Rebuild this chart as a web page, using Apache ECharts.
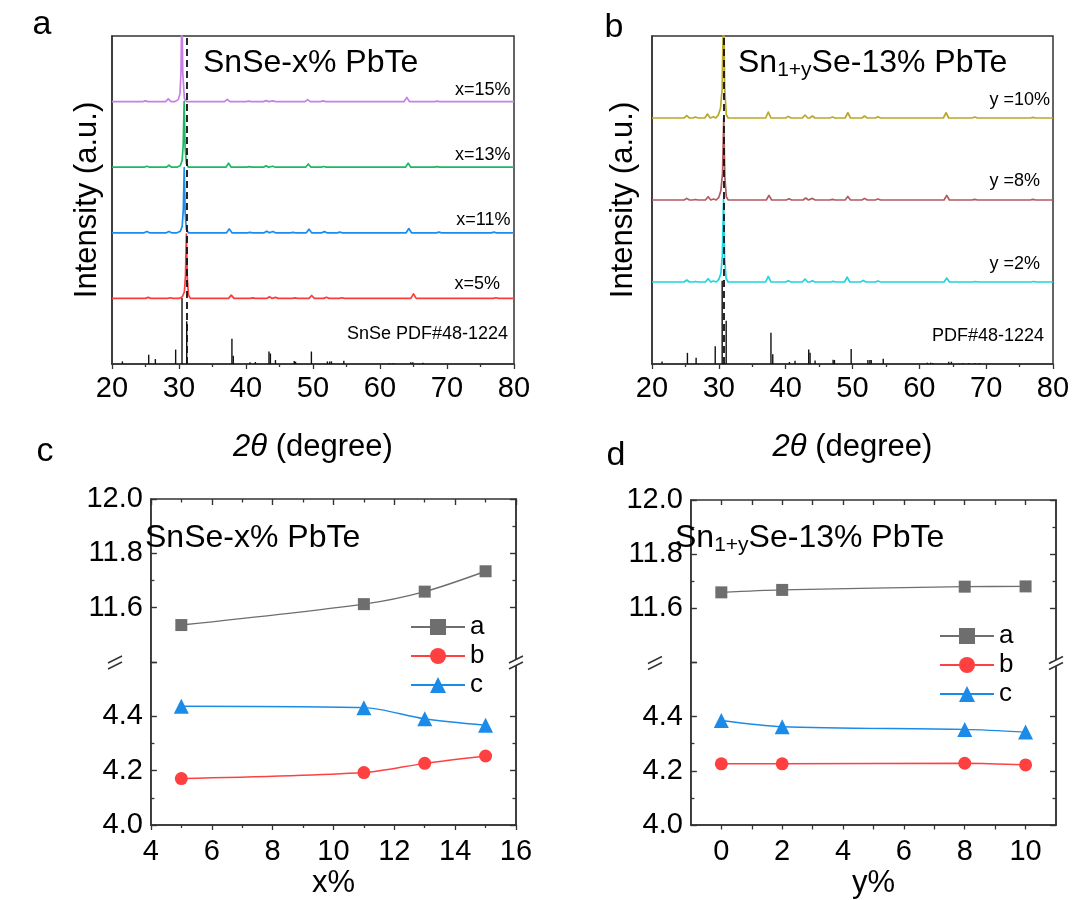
<!DOCTYPE html>
<html><head><meta charset="utf-8">
<script src="https://cdn.jsdelivr.net/npm/echarts@6/dist/echarts.min.js"></script>
<style>html,body{margin:0;padding:0;background:#fff}#main{width:1074px;height:900px}</style>
</head><body><div id="main"></div>
<script>
// ---------- Panel a : SnSe-x% PbTe XRD (2θ, intensity above each trace's baseline) ----------
const x5Main  = [[30.0,0],[30.5,0.5],[30.8,2.0],[30.97,7],[31.1,19.6],[31.24,6],[31.42,1],[31.7,0]];
const x5Peaks = [[25.4,0.3],[28.7,0.2],[37.8,1.0],[41.0,0.15],[43.5,0.5],[44.4,0.3],[47.3,0.15],[49.8,0.9],[52.0,0.35],[54.3,0.2],[65.0,1.4],[77.3,0.2]];
const x11Main  = [[29.7,0],[30.2,0.5],[30.48,2.0],[30.64,7],[30.78,19.9],[30.92,6],[31.1,1],[31.4,0]];
const x11Peaks = [[25.2,0.4],[28.5,0.4],[37.5,1.2],[40.6,0.15],[43.1,0.5],[44.0,0.4],[47.0,0.15],[49.4,1.1],[51.7,0.35],[54.0,0.2],[64.3,1.3],[68.8,0.2],[77.0,0.2]];
const x13Main  = [[29.7,0],[30.2,0.5],[30.48,2.2],[30.63,7],[30.77,20.1],[30.91,6],[31.1,1],[31.4,0]];
const x13Peaks = [[25.2,0.3],[28.5,0.6],[37.4,1.2],[40.5,0.15],[43.0,0.4],[44.0,0.3],[49.3,1.0],[51.6,0.2],[64.2,1.2],[68.5,0.15]];
const x15Main  = [[29.4,0],[29.9,0.6],[30.15,2.5],[30.3,9],[30.43,30],[30.56,9],[30.8,1],[31.1,0]];
const x15Peaks = [[25.0,0.2],[28.4,0.8],[37.2,0.7],[40.4,0.15],[43.0,0.3],[44.0,0.2],[49.2,0.6],[51.5,0.2],[64.0,1.3],[68.5,0.15]];
const refA = [[21.55,0.8],[25.48,2.8],[26.47,1.5],[29.5,4.4],[30.45,20.1],[31.15,13],[37.9,7.7],[38.1,2.5],[40.6,0.5],[41.4,0.6],[43.43,3.8],[43.64,3.2],[44.4,1.2],[47.2,0.9],[47.4,0.7],[49.76,3.8],[52.15,0.8],[52.5,0.8],[52.75,0.8],[54.6,1.0],[61.4,0.3],[62.0,0.3],[64.6,0.5],[64.9,0.5],[66.4,0.4]];

// ---------- Panel b : Sn1+ySe-13% PbTe XRD ----------
const y2Main  = [[29.6,0],[30.0,0.8],[30.3,2.5],[30.53,8],[30.7,25.2],[30.87,7],[31.1,1],[31.4,0]];
const y2Peaks = [[25.2,0.6],[26.5,0.15],[28.4,1.0],[29.2,0.3],[37.4,1.7],[40.4,0.4],[42.9,0.9],[44.0,0.4],[47.1,0.2],[49.2,1.5],[51.6,0.5],[53.8,0.3],[64.1,1.2],[68.4,0.15],[77.1,0.15]];
const y8Main  = [[29.6,0],[30.0,0.8],[30.3,2.8],[30.55,8],[30.73,25],[30.9,7],[31.12,1],[31.4,0]];
const y8Peaks = [[25.2,0.5],[26.5,0.15],[28.4,1.0],[29.2,0.3],[37.5,1.4],[40.5,0.4],[43.0,0.6],[44.0,0.5],[47.0,0.2],[49.3,1.1],[51.8,0.5],[53.8,0.3],[64.1,1.4],[68.3,0.2],[77.0,0.2]];
const y10Main  = [[29.55,0],[29.9,0.8],[30.25,3],[30.5,9],[30.7,35],[30.88,9],[31.12,1],[31.4,0]];
const y10Peaks = [[25.2,0.7],[26.5,0.3],[28.3,1.2],[29.2,0.4],[37.4,1.8],[40.4,0.5],[42.9,0.9],[44.0,0.6],[47.0,0.3],[49.3,1.6],[51.8,0.6],[53.8,0.4],[64.0,1.6],[68.3,0.3],[77.0,0.2]];
const refB = [[21.5,0.8],[25.3,3.4],[26.6,1.9],[29.46,5.4],[30.5,25.4],[31.1,13.2],[37.8,9.5],[38.07,3],[40.56,0.6],[41.4,1.0],[43.45,4.4],[43.65,3.4],[44.4,1.1],[47.1,1.3],[47.3,1.2],[49.8,4.6],[52.3,1.2],[52.6,1.2],[52.8,1.2],[54.6,1.6],[61.2,0.4],[61.7,0.4],[62.0,0.3],[64.4,0.7],[64.8,0.7],[66.5,0.3],[67.4,0.3],[68.3,0.3],[69.0,0.3]];

// ---------- Panel c : lattice parameters vs x% ----------
const xC = [5, 11, 13, 15];
const aC = [11.536, 11.613, 11.659, 11.734];
const bC = [4.171, 4.193, 4.227, 4.254];
const cC = [4.437, 4.432, 4.391, 4.367];

// ---------- Panel d : lattice parameters vs y% ----------
const xD = [0, 2, 8, 10];
const aD = [11.659, 11.668, 11.680, 11.681];
const bD = [4.226, 4.226, 4.228, 4.222];
const cD = [4.386, 4.363, 4.353, 4.343];

const yTickLabels = ['4.0','4.2','4.4','11.6','11.8','12.0'];
const xTicksD = [0, 2, 4, 6, 8, 10];

const FONT = '"Liberation Sans", Arial, Helvetica, sans-serif';
const AX = '#333';

function profile(mainPts, peaks, offset) {
  const pts = [[20, 0], [80, 0]];
  mainPts.forEach(p => pts.push([p[0], p[1]]));
  peaks.forEach(p => { pts.push([p[0] - 0.4, 0], [p[0], p[1]], [p[0] + 0.4, 0]); });
  pts.sort((u, v) => u[0] - v[0]);
  return pts.map(p => [p[0], p[1] + offset]);
}
function pairs(xs, ys) { return xs.map((x, i) => [x, ys[i]]); }

function xrdX(gi) {
  return {
    type: 'value', gridIndex: gi, min: 20, max: 80, interval: 10,
    axisLine: { show: true, onZero: false, lineStyle: { color: AX, width: 1.5 } },
    axisTick: { show: true, length: 5, lineStyle: { color: AX, width: 1.3 } },
    minorTick: { show: true, splitNumber: 2, length: 3, lineStyle: { color: AX, width: 1.3 } },
    splitLine: { show: false },
    axisLabel: { fontSize: 29, color: '#000', margin: 10, fontFamily: FONT },
    name: '{i|2θ} (degree)', nameLocation: 'middle', nameGap: 68,
    nameTextStyle: { fontSize: 31, color: '#000', fontFamily: FONT,
      rich: { i: { fontStyle: 'italic', fontSize: 31, color: '#000', fontFamily: FONT } } }
  };
}
function xrdY(gi, gap) {
  return {
    type: 'value', gridIndex: gi, min: 0, max: 100,
    axisLine: { show: true, onZero: false, lineStyle: { color: AX, width: 1.5 } },
    axisTick: { show: false }, axisLabel: { show: false }, splitLine: { show: false },
    name: 'Intensity (a.u.)', nameLocation: 'middle', nameGap: gap,
    nameTextStyle: { fontSize: 31, color: '#000', fontFamily: FONT }
  };
}
function latY(gi, pos, showLabel, gap) {
  const o = {
    type: 'value', gridIndex: gi, position: pos, min: 4, max: 12, interval: 0.2,
    breaks: [{ start: 4.6, end: 11.4, gap: 0 }],
    breakArea: { show: false, expandOnClick: false },
    axisLine: { show: true, onZero: false, lineStyle: { color: AX, width: 1.5 } },
    axisTick: { show: true, inside: true, length: 6, lineStyle: { color: AX, width: 1.4 } },
    minorTick: { show: true, splitNumber: 2, length: 3.5, lineStyle: { color: AX, width: 1.3 } },
    splitLine: { show: false },
    axisLabel: { show: showLabel, fontSize: 29, color: '#000', margin: 8, fontFamily: FONT,
      formatter: v => { const s = Number(v).toFixed(1); return yTickLabels.indexOf(s) >= 0 ? s : ''; } }
  };
  if (showLabel) {
    o.name = 'Lattice parameter (Å)'; o.nameLocation = 'middle'; o.nameGap = gap;
    o.nameTextStyle = { fontSize: 31, color: '#000', fontFamily: FONT };
  }
  return o;
}
function xrdLine(xi, data, color) {
  return { type: 'line', xAxisIndex: xi, yAxisIndex: xi, data, symbol: 'none', showSymbol: false,
    lineStyle: { color, width: 1.7, join: 'round' }, itemStyle: { color }, silent: true, z: 2 };
}
function refBars(xi, data, dashX) {
  return { type: 'bar', xAxisIndex: xi, yAxisIndex: xi, data, barWidth: 1.4,
    itemStyle: { color: '#111' }, silent: true, z: 4,
    markLine: { silent: true, symbol: ['none', 'none'], label: { show: false },
      lineStyle: { color: '#111', width: 1.8, type: [7, 4] }, data: [{ xAxis: dashX }] } };
}
function latLine(name, xi, yi, data, symbol, size, color) {
  return { name, type: 'line', xAxisIndex: xi, yAxisIndex: yi, data, smooth: 0.3,
    symbol, symbolSize: size, showSymbol: true, itemStyle: { color }, lineStyle: { color, width: 1.4 } };
}
const gridBase = { show: true, borderColor: AX, borderWidth: 1.5, backgroundColor: 'transparent', containLabel: false };
const legendBase = { data: ['a', 'b', 'c'], orient: 'vertical', itemWidth: 54, itemHeight: 20, itemGap: 3,
  selectedMode: false, textStyle: { fontSize: 26, lineHeight: 26, color: '#000', fontFamily: FONT } };

const option = {
  animation: false,
  backgroundColor: '#fff',
  textStyle: { fontFamily: FONT },
  grid: [
    Object.assign({ left: 112, top: 36, width: 402, height: 328 }, gridBase),
    Object.assign({ left: 652, top: 36, width: 401, height: 328 }, gridBase),
    Object.assign({ left: 115, top: 499, width: 401, height: 326 }, gridBase),
    Object.assign({ left: 655, top: 500, width: 401, height: 327 }, gridBase)
  ],
  xAxis: [
    xrdX(0), xrdX(1),
    { type: 'value', gridIndex: 2, min: 4, max: 16, interval: 2, position: 'bottom',
      axisLine: { show: true, onZero: false, lineStyle: { color: AX, width: 1.5 } },
      axisTick: { length: 5, lineStyle: { color: AX, width: 1.3 } },
      minorTick: { show: true, splitNumber: 2, length: 3, lineStyle: { color: AX, width: 1.3 } },
      splitLine: { show: false },
      axisLabel: { fontSize: 29, color: '#000', margin: 12, fontFamily: FONT },
      name: 'x%', nameLocation: 'middle', nameGap: 43, nameTextStyle: { fontSize: 31, color: '#000', fontFamily: FONT } },
    { type: 'value', gridIndex: 2, min: 4, max: 16, interval: 2, position: 'top',
      axisLine: { show: false, onZero: false }, axisLabel: { show: false }, splitLine: { show: false },
      axisTick: { inside: true, length: 6, lineStyle: { color: AX, width: 1.4 } },
      minorTick: { show: true, splitNumber: 2, length: 3.5, lineStyle: { color: AX, width: 1.3 } } },
    { type: 'value', gridIndex: 3, min: -1, max: 11, position: 'bottom',
      axisLine: { show: true, onZero: false, lineStyle: { color: AX, width: 1.5 } },
      axisTick: { customValues: [0,1,2,3,4,5,6,7,8,9,10], length: 4.5, lineStyle: { color: AX, width: 1.3 } },
      splitLine: { show: false },
      axisLabel: { customValues: xTicksD, fontSize: 29, color: '#000', margin: 12, fontFamily: FONT },
      name: 'y%', nameLocation: 'middle', nameGap: 43, nameTextStyle: { fontSize: 31, color: '#000', fontFamily: FONT } },
    { type: 'value', gridIndex: 3, min: -1, max: 11, position: 'top',
      axisLine: { show: false, onZero: false }, axisLabel: { show: false }, splitLine: { show: false },
      axisTick: { customValues: [0,1,2,3,4,5,6,7,8,9,10], inside: true, length: 5, lineStyle: { color: AX, width: 1.4 } } }
  ],
  yAxis: [
    xrdY(0, 9), xrdY(1, 13),
    latY(2, 'left', true, 70), latY(2, 'right', false, 0),
    latY(3, 'left', true, 71), latY(3, 'right', false, 0)
  ],
  legend: [
    Object.assign({ left: 405, top: 609 }, legendBase),
    Object.assign({ left: 934, top: 618 }, legendBase)
  ],
  series: [
    xrdLine(0, profile(x5Main, x5Peaks, 20), '#ff3a3a'),
    xrdLine(0, profile(x11Main, x11Peaks, 40), '#1a8cf0'),
    xrdLine(0, profile(x13Main, x13Peaks, 60), '#1db866'),
    xrdLine(0, profile(x15Main, x15Peaks, 80), '#c87ee8'),
    refBars(0, refA, 31.15),
    xrdLine(1, profile(y2Main, y2Peaks, 25), '#1fd4e0'),
    xrdLine(1, profile(y8Main, y8Peaks, 50), '#b35a5e'),
    xrdLine(1, profile(y10Main, y10Peaks, 75), '#b8a82a'),
    refBars(1, refB, 30.73),
    latLine('a', 2, 2, pairs(xC, aC), 'rect', 12, '#6e6e6e'),
    latLine('b', 2, 2, pairs(xC, bC), 'circle', 13, '#ff4040'),
    latLine('c', 2, 2, pairs(xC, cC), 'triangle', 15, '#1a8be8'),
    latLine('a', 4, 4, pairs(xD, aD), 'rect', 12, '#6e6e6e'),
    latLine('b', 4, 4, pairs(xD, bD), 'circle', 13, '#ff4040'),
    latLine('c', 4, 4, pairs(xD, cD), 'triangle', 15, '#1a8be8')
  ]
};

const chart = echarts.init(document.getElementById('main'), null, { renderer: 'canvas' });
chart.setOption(option);

function yPix(idx, v, fb) {
  try { const p = chart.convertToPixel({ yAxisIndex: idx }, v); if (isFinite(p)) return p; } catch (e) {}
  return fb;
}
function txt(x, y, text, size, align, extra) {
  const st = Object.assign({ text, fontSize: size, fontFamily: FONT, fill: '#000',
    textAlign: align, align: align, textVerticalAlign: 'middle', verticalAlign: 'middle' }, extra || {});
  return { type: 'text', x, y, style: st, z: 100, silent: true };
}
function subTxt(x, y) {
  return { type: 'text', x, y, z: 100, silent: true, style: {
    text: '{m|Sn}{s|1+y}{m|Se-13% PbTe}', textAlign: 'left', align: 'left', textVerticalAlign: 'middle', verticalAlign: 'middle',
    fill: '#000', fontFamily: FONT, fontSize: 32,
    rich: { m: { fontSize: 32, fontFamily: FONT, fill: '#000', lineHeight: 36 },
            s: { fontSize: 21, fontFamily: FONT, fill: '#000', lineHeight: 14, verticalAlign: 'bottom' } } } };
}
function brk(x, y) {
  return [
    { type: 'polygon', shape: { points: [[x - 7, y + 1], [x + 7, y - 6], [x + 7, y], [x - 7, y + 7]] }, style: { fill: '#fff' }, z: 100, silent: true },
    { type: 'line', shape: { x1: x - 7, y1: y + 1, x2: x + 7, y2: y - 6 }, style: { stroke: AX, lineWidth: 1.5 }, z: 101, silent: true },
    { type: 'line', shape: { x1: x - 7, y1: y + 7, x2: x + 7, y2: y }, style: { stroke: AX, lineWidth: 1.5 }, z: 101, silent: true }
  ];
}
const yc = yPix(2, 4.6, 662);
const yd = yPix(4, 4.6, 663.5);
const g = [
  txt(42, 25, 'a', 34, 'center'), txt(614, 28, 'b', 34, 'center'),
  txt(45, 452, 'c', 34, 'center'), txt(616, 456, 'd', 34, 'center'),
  txt(203, 63, 'SnSe-x% PbTe', 32, 'left'),
  subTxt(738, 63),
  txt(145, 538, 'SnSe-x% PbTe', 32, 'left'),
  subTxt(675, 538),
  txt(510.5, 90, 'x=15%', 18, 'right'), txt(510.5, 155, 'x=13%', 18, 'right'),
  txt(510.5, 220, 'x=11%', 18, 'right'), txt(500, 284.5, 'x=5%', 18, 'right'),
  txt(508, 334, 'SnSe PDF#48-1224', 18, 'right'),
  txt(1050, 100, 'y =10%', 18, 'right'), txt(1040, 181, 'y =8%', 18, 'right'),
  txt(1040, 264, 'y =2%', 18, 'right'), txt(1044, 336, 'PDF#48-1224', 18, 'right')
].concat(brk(115, yc), brk(516, yc), brk(655, yd), brk(1056, yd));
chart.setOption({ graphic: { elements: g } });
</script></body></html>
